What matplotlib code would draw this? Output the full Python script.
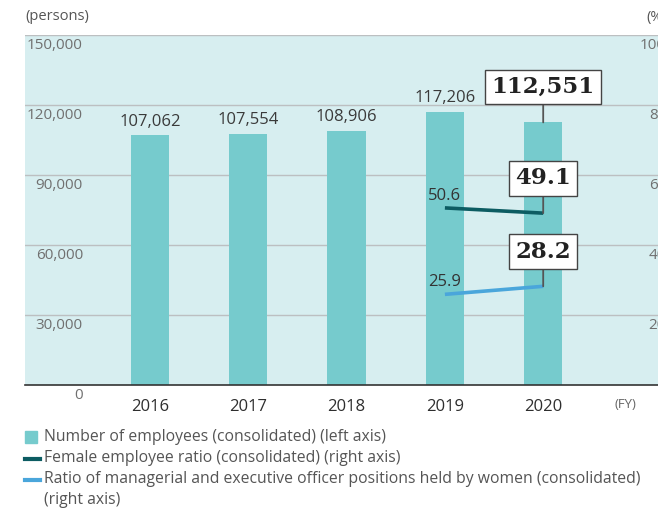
import matplotlib
matplotlib.use("Agg")
import matplotlib.pyplot as plt
import matplotlib.transforms as mtransforms
from matplotlib.patches import Rectangle
from matplotlib.lines import Line2D

plt.rcParams['font.family'] = ['Open Sans', 'DejaVu Sans']

years = ['2016', '2017', '2018', '2019', '2020']
employees = [107062, 107554, 108906, 117206, 112551]
female_years = ['2019', '2020']
female_ratio = [50.6, 49.1]
mgr_ratio = [25.9, 28.2]
left_ticks = [0, 30000, 60000, 90000, 120000, 150000]
right_ticks = [20, 40, 60, 80, 100]

W, H = 658, 513
fig = plt.figure(figsize=(W / 100, H / 100), dpi=100)

ax_left_px, ax_right_px = 25, 680
ax_top_px, ax_bot_px = 35, 385
ax = fig.add_axes([ax_left_px / W, 1 - ax_bot_px / H,
                   (ax_right_px - ax_left_px) / W, (ax_bot_px - ax_top_px) / H])
ax.set_facecolor('#d7eef0')

x = list(range(len(years)))
step = 98.3
ax.set_xlim(-(150 - ax_left_px) / step, (ax_right_px - 150) / step)
ax.set_ylim(0, 150000)

for v in left_ticks[1:]:
    ax.axhline(v, color='#bcbfc1', lw=1.0, zorder=1)

ax.bar(x, employees, width=0.39, color='#76cbcd', zorder=2)

for s in ['left', 'right', 'top']:
    ax.spines[s].set_visible(False)
ax.spines['bottom'].set_color('#333333')
ax.spines['bottom'].set_linewidth(1.2)
ax.set_yticks([])
ax.set_xticks(x)
ax.set_xticklabels(years, fontsize=12, color='#2e2e2e')
ax.tick_params(axis='x', length=0, pad=10)

# left tick labels (inside, under gridlines)
blend = mtransforms.blended_transform_factory(ax.transAxes, ax.transData)
lx = (83 - ax_left_px) / (ax_right_px - ax_left_px)
for v in left_ticks:
    ax.annotate(f"{v:,}", xy=(lx, v), xycoords=blend, xytext=(0, -2.5),
                textcoords='offset points', ha='right', va='top',
                fontsize=11, color='#707070')

# bar value labels
for i, v in enumerate(employees[:-1]):
    ax.annotate(f"{v:,}", xy=(i, v), xytext=(0, 4), textcoords='offset points',
                ha='center', va='bottom', fontsize=12, color='#3a3a3a', zorder=5)

box = dict(boxstyle='square,pad=0.28', fc='white', ec='#444444', lw=1.0)
arrow = dict(arrowstyle='-', color='#555555', lw=1.3, shrinkA=0, shrinkB=0)
ax.annotate(f"{employees[-1]:,}", xy=(4, employees[-1]), xytext=(0, 25.5),
            textcoords='offset points', ha='center', va='center',
            fontsize=16.5, fontweight='bold', family='DejaVu Serif', color='#222222',
            bbox=box, arrowprops=arrow, zorder=6)

# right axis
ax2 = ax.twinx()
ax2.set_ylim(0, 100)
ax2.set_yticks([])
for s in ax2.spines.values():
    s.set_visible(False)
fx = [years.index(y) for y in female_years]
ax2.plot(fx, female_ratio, color='#0c5c62', lw=2.6, solid_capstyle='butt', zorder=4)
ax2.plot(fx, mgr_ratio, color='#4aa6db', lw=2.6, solid_capstyle='butt', zorder=4)

ax2.annotate(f"{female_ratio[0]}", xy=(fx[0], female_ratio[0]), xytext=(0, 3),
             textcoords='offset points', ha='center', va='bottom', fontsize=12, color='#333333')
ax2.annotate(f"{mgr_ratio[0]}", xy=(fx[0], mgr_ratio[0]), xytext=(0, 3),
             textcoords='offset points', ha='center', va='bottom', fontsize=12, color='#333333')
for val in [female_ratio[-1], mgr_ratio[-1]]:
    ax2.annotate(f"{val}", xy=(fx[-1], val), xytext=(0, 25),
                 textcoords='offset points', ha='center', va='center',
                 fontsize=16.5, fontweight='bold', family='DejaVu Serif', color='#222222',
                 bbox=box, arrowprops=arrow, zorder=6)

blend2 = mtransforms.blended_transform_factory(ax2.transAxes, ax2.transData)
rx = (666 - ax_left_px) / (ax_right_px - ax_left_px)
for v in right_ticks:
    ax2.annotate(f"{v}", xy=(rx, v), xycoords=blend2, xytext=(0, -2.5),
                 textcoords='offset points', ha='right', va='top',
                 fontsize=11, color='#707070', annotation_clip=False)

# unit labels
fig.text(25 / W, 1 - 17 / H, "(persons)", ha='left', va='center', fontsize=10.5, color='#555555')
fig.text(646 / W, 1 - 17 / H, "(%)", ha='left', va='center', fontsize=10.5, color='#555555')
fig.text(625 / W, 1 - 404 / H, "(FY)", ha='center', va='center', fontsize=9.5, color='#666666')

# legend
fs = 11.3
lc = '#555555'
fig.patches.append(Rectangle((25 / W, 1 - 443 / H), 12 / W, 12 / H,
                             transform=fig.transFigure, color='#76cbcd'))
fig.text(44 / W, 1 - 437 / H, "Number of employees (consolidated) (left axis)",
         ha='left', va='center', fontsize=fs, color=lc)
fig.lines.append(Line2D([25 / W, 40 / W], [1 - 459 / H, 1 - 459 / H],
                        transform=fig.transFigure, color='#0c5c62', lw=3))
fig.text(44 / W, 1 - 458 / H, "Female employee ratio (consolidated) (right axis)",
         ha='left', va='center', fontsize=fs, color=lc)
fig.lines.append(Line2D([25 / W, 40 / W], [1 - 480 / H, 1 - 480 / H],
                        transform=fig.transFigure, color='#4aa6db', lw=3))
fig.text(44 / W, 1 - 479 / H,
         "Ratio of managerial and executive officer positions held by women (consolidated)",
         ha='left', va='center', fontsize=fs, color=lc)
fig.text(44 / W, 1 - 500 / H, "(right axis)", ha='left', va='center', fontsize=fs, color=lc)

fig.savefig('out.png', dpi=100)
